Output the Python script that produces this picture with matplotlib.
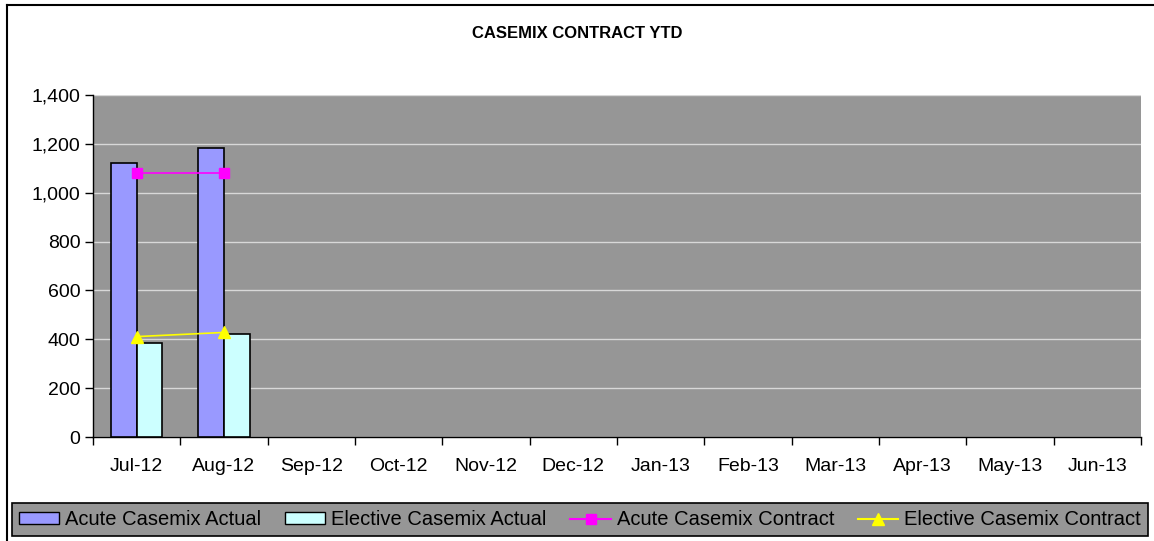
import numpy as np
import matplotlib.pyplot as plt
from matplotlib.lines import Line2D
from matplotlib.patches import Patch

plt.rcParams['font.family'] = ['Liberation Sans', 'DejaVu Sans']

months = ['Jul-12', 'Aug-12', 'Sep-12', 'Oct-12', 'Nov-12', 'Dec-12',
          'Jan-13', 'Feb-13', 'Mar-13', 'Apr-13', 'May-13', 'Jun-13']
acute_actual = [1120, 1185]
elective_actual = [385, 421]
acute_contract = [1082, 1082]
elective_contract = [411, 428]

W, H = 1154, 541
fig = plt.figure(figsize=(W / 100, H / 100), dpi=100)
ax = fig.add_axes([93 / W, 1 - 437 / H, (1141 - 93) / W, (437 - 95) / H])

# chart frame
fig.add_artist(plt.Line2D([7 / W, 7 / W], [0, 1 - 5 / H], color='black', lw=1.5,
                          transform=fig.transFigure))
fig.add_artist(plt.Line2D([7 / W, 1], [1 - 5 / H, 1 - 5 / H], color='black', lw=1.5,
                          transform=fig.transFigure))

ax.set_facecolor('#969696')
x = np.arange(len(months))
bw = 0.294
n = len(acute_actual)
ax.bar(x[:n] - bw / 2, acute_actual, bw, color='#9999ff', edgecolor='black', lw=1.2, zorder=3)
ax.bar(x[:n] + bw / 2, elective_actual, bw, color='#ccffff', edgecolor='black', lw=1.2, zorder=3)
ax.plot(x[:n], acute_contract, color='#ff00ff', marker='s', ms=7, lw=1.2, zorder=4)
ax.plot(x[:n], elective_contract, color='#ffff00', marker='^', ms=8, lw=1.2, zorder=4)

ax.set_xlim(-0.5, len(months) - 0.5)
ax.set_ylim(0, 1400)
ax.set_yticks(range(0, 1401, 200))
ax.set_yticklabels([f'{v:,}' for v in range(0, 1401, 200)], fontsize=14)
ax.yaxis.grid(True, color='#d8d8d8', lw=1, zorder=0)
ax.set_axisbelow(True)

ax.set_xticks(x)
ax.set_xticklabels(months, fontsize=14)
ax.set_xticks(np.arange(-0.5, len(months), 1), minor=True)
ax.tick_params(axis='x', which='major', length=0, pad=15)
ax.tick_params(axis='x', which='minor', length=6, direction='out', width=1)
ax.tick_params(axis='y', length=6, direction='out', width=1, pad=3)

for s in ['top', 'right']:
    ax.spines[s].set_visible(False)
for s in ['left', 'bottom']:
    ax.spines[s].set_color('black')
    ax.spines[s].set_linewidth(1)

fig.text(0.5, 1 - 33 / H, 'CASEMIX CONTRACT YTD', ha='center', va='center',
         fontsize=12, fontweight='bold')

handles = [
    Patch(facecolor='#9999ff', edgecolor='black', label='Acute Casemix Actual'),
    Patch(facecolor='#ccffff', edgecolor='black', label='Elective Casemix Actual'),
    Line2D([], [], color='#ff00ff', marker='s', ms=7, label='Acute Casemix Contract'),
    Line2D([], [], color='#ffff00', marker='^', ms=8, label='Elective Casemix Contract'),
]
leg = fig.legend(handles=handles, loc='upper left', ncol=4, mode='expand',
                 bbox_to_anchor=(12 / W, 1 - 503 / H, (1148 - 12) / W, 0.0),
                 fontsize=14.5, frameon=True, fancybox=False, facecolor='#969696',
                 edgecolor='black', framealpha=1, handlelength=2.0, handletextpad=0.3,
                 handleheight=0.5, columnspacing=0.4, borderpad=0.35, borderaxespad=0)
leg.get_frame().set_linewidth(1.2)

fig.savefig('out.png', dpi=100)
